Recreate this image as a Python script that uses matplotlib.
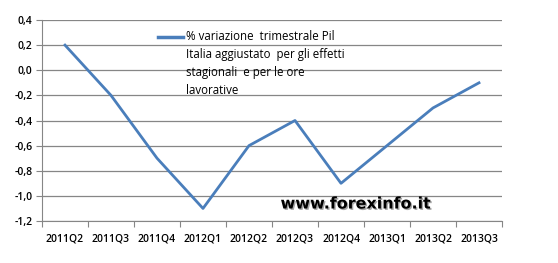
import matplotlib.pyplot as plt
import matplotlib.patheffects as pe
import numpy as np

# dati
trimestri = ["2011Q2", "2011Q3", "2011Q4", "2012Q1", "2012Q2",
             "2012Q3", "2012Q4", "2013Q1", "2013Q2", "2013Q3"]
pil = [0.2, -0.2, -0.7, -1.1, -0.6, -0.4, -0.9, -0.6, -0.3, -0.1]
yticks = [-1.2, -1.0, -0.8, -0.6, -0.4, -0.2, 0.0, 0.2, 0.4]
etichetta = ("% variazione  trimestrale Pil\nItalia aggiustato  per gli effetti\n"
             "stagionali  e per le ore\nlavorative")

plt.rcParams['font.family'] = ['Open Sans', 'DejaVu Sans']
blu = "#4A7EBB"

fig = plt.figure(figsize=(5.58, 2.63), dpi=100)
ax = fig.add_axes([42/558, 1 - 221/263, 460/558, 201/263])

x = np.arange(len(trimestri))
ax.plot(x, pil, color=blu, linewidth=2.0)

ax.set_xlim(-0.5, len(trimestri) - 0.5)
ax.set_ylim(-1.2, 0.4)
ax.set_yticks(yticks)
ax.set_yticklabels([f"{v:.1f}".replace(".", ",") for v in yticks],
                   fontsize=7.5, fontweight="semibold")
ax.grid(axis="y", color="#868686", linewidth=0.9)
ax.set_axisbelow(True)

# tick tra le categorie
ax.set_xticks(np.arange(len(trimestri) + 1) - 0.5)
ax.set_xticklabels([])
ax.set_xticks(x, minor=True)
ax.set_xticklabels(trimestri, minor=True, fontsize=7.5, fontweight="semibold")
ax.tick_params(axis="x", which="minor", length=0, pad=9)
ax.tick_params(axis="x", which="major", length=4, color="#868686")
ax.tick_params(axis="y", length=4, color="#868686", pad=3)

for s in ["top", "right"]:
    ax.spines[s].set_visible(False)
ax.spines["left"].set_color("#868686")
ax.spines["bottom"].set_color("#868686")

# legenda
ax.plot([116/460, 141/460], [1 - 17/201] * 2, transform=ax.transAxes,
        color=blu, linewidth=2.5, clip_on=False)
ax.text(144/460, 1 - 10/201, etichetta, transform=ax.transAxes,
        fontsize=8.3, va="top", ha="left", linespacing=1.5)

fig.text(356/558, 1 - 204/263, "www.forexinfo.it", fontsize=11.5,
         fontweight="bold", ha="center", va="center", color="black",
         family="DejaVu Sans",
         path_effects=[pe.withSimplePatchShadow(offset=(1, -1), alpha=0.35)])

fig.savefig("out.png", dpi=100)
